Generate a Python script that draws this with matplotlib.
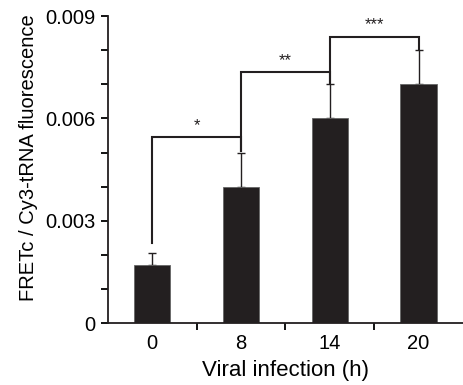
import matplotlib
matplotlib.use("Agg")
import matplotlib.pyplot as plt
from matplotlib.ticker import MultipleLocator

plt.rcParams['font.family'] = ['Liberation Sans', 'DejaVu Sans']

categories = ['0', '8', '14', '20']
values = [0.0017, 0.0040, 0.0060, 0.0070]
errors = [0.00035, 0.0010, 0.0010, 0.0010]
# significance brackets: (left index, right index, top y, label)
brackets = [(0, 1, 0.00545, '*'), (1, 2, 0.00736, '**'), (2, 3, 0.0084, '***')]

fig = plt.figure(figsize=(4.63, 3.85), dpi=100)
ax = fig.add_axes([0.233, 0.161, 0.767, 0.797])

x = list(range(len(categories)))
color = '#231f20'
ax.bar(x, values, width=0.41, color=color, edgecolor='#666666', linewidth=0.6, zorder=2)
ax.errorbar(x, values, yerr=[[0]*len(values), errors], fmt='none', ecolor=color,
            elinewidth=1.0, capsize=3, capthick=1.0, zorder=1)

gap = 0.00004
for (i, j, top, label) in brackets:
    yl = values[i] + errors[i] + (0.0003 if i == 0 else gap)
    yr = values[j] + errors[j] + gap
    ax.plot([x[i], x[i], x[j], x[j]], [yl, top, top, yr], color=color, lw=1.5,
            solid_joinstyle='miter', zorder=3)
    ax.text((x[i] + x[j]) / 2, top + 0.00012, label, ha='center', va='bottom',
            fontsize=12, color=color)

ax.set_xlim(-0.5, 3.5)
ax.set_ylim(0, 0.009)
ax.yaxis.set_minor_locator(MultipleLocator(0.001))
ax.set_yticks([0, 0.003, 0.006, 0.009])
ax.set_yticklabels(['0', '0.003', '0.006', '0.009'])
ax.set_xticks(x)
ax.set_xticklabels(categories)
ax.set_xticks([0.5, 1.5, 2.5], minor=True)
ax.tick_params(axis='x', which='major', length=0, labelsize=14.5, pad=8)
ax.tick_params(axis='x', which='minor', length=5, width=1.3, direction='out')
ax.tick_params(axis='y', which='both', length=5, width=1.3, direction='out', labelsize=14.5, pad=4)

for s in ['top', 'right']:
    ax.spines[s].set_visible(False)
for s in ['left', 'bottom']:
    ax.spines[s].set_linewidth(1.3)
    ax.spines[s].set_color(color)

ax.set_xlabel('Viral infection (h)', fontsize=16, labelpad=5)
ax.set_ylabel('FRETc / Cy3-tRNA fluorescence', fontsize=14.5)
ax.yaxis.set_label_coords(-0.197, 0.54)

fig.savefig('out.png', dpi=100)
